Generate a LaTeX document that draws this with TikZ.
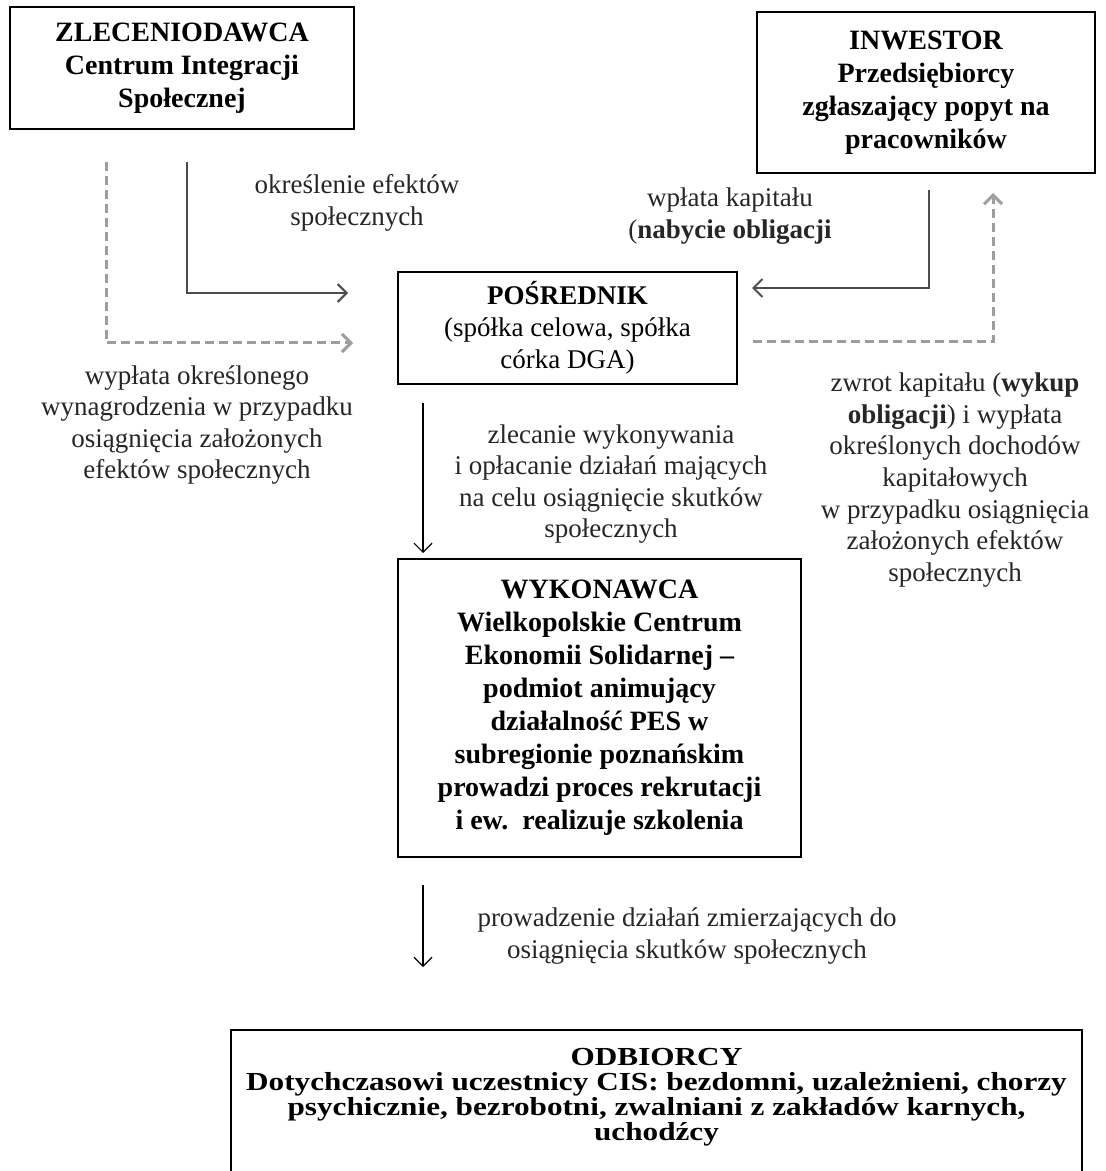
\documentclass[tikz,border=0pt]{standalone}
\usepackage{fontspec}
\setmainfont{Liberation Serif}
\newfontfamily\widefont[FakeStretch=1.2]{Liberation Serif}
\usetikzlibrary{arrows.meta}

\begin{document}
\begin{tikzpicture}[x=0.5pt, y=-0.5pt,
  >={Straight Barb[length=4.5pt,width=9pt]},
  box/.style={draw, line width=0.9pt, align=center, inner sep=0pt,
    font=\fontsize{14}{16.5}\selectfont\bfseries},
  lbl/.style={align=center, text=black!85, inner sep=0pt,
    font=\fontsize{13.5}{15.8}\selectfont},
  flow/.style={->, line width=1pt, draw=black!70},
  back/.style={->, line width=1.5pt, draw=black!38, dash pattern=on 4.5pt off 2.5pt},
  down/.style={->, line width=0.6pt}]
\useasboundingbox (0,0) rectangle (1106,1171);
\clip (0,0) rectangle (1106,1171);

% boxes
\node[box, minimum width=172pt, minimum height=61pt] (zlec) at (182,68)
  {ZLECENIODAWCA\\Centrum Integracji\\Społecznej};
\node[box, minimum width=169pt, minimum height=80.5pt] (inw) at (926,92.5)
  {INWESTOR\\Przedsiębiorcy\\zgłaszający popyt na\\pracowników};
\node[box, minimum width=169.5pt, minimum height=56pt,
  font=\fontsize{13.5}{16}\selectfont] (posr) at (567.5,328)
  {\textbf{POŚREDNIK}\\(spółka celowa, spółka\\córka DGA)};
\node[box, minimum width=201.5pt, minimum height=149pt] (wyk) at (599.5,708)
  {WYKONAWCA\\Wielkopolskie Centrum\\Ekonomii Solidarnej --\\podmiot animujący\\działalność PES w\\subregionie poznańskim\\prowadzi proces rekrutacji\\i ew.\ \ realizuje szkolenia};
% bottom box runs past the lower edge
\node[box, anchor=north, minimum width=425.5pt, inner ysep=9pt,
  font=\widefont\fontsize{13}{12.5}\selectfont\bfseries] (odb) at (656.5,1029)
  {ODBIORCY\\Dotychczasowi uczestnicy CIS: bezdomni, uzależnieni, chorzy\\psychicznie, bezrobotni, zwalniani z zakładów karnych,\\uchodźcy\rule[-24pt]{0pt}{24pt}};

% labels
\node[lbl] (okr) at (357,203) {określenie efektów\\społecznych};
\node[lbl] (wpl) at (730,216) {wpłata kapitału\\(\textbf{nabycie obligacji}};
\node[lbl] (wyp) at (197,425)
  {wypłata określonego\\wynagrodzenia w przypadku\\osiągnięcia założonych\\efektów społecznych};
\node[lbl] (zlc) at (611,484)
  {zlecanie wykonywania\\i opłacanie działań mających\\na celu osiągnięcie skutków\\społecznych};
\node[lbl] (zwr) at (955,480)
  {zwrot kapitału (\textbf{wykup}\\\textbf{obligacji}) i wypłata\\określonych dochodów\\kapitałowych\\w przypadku osiągnięcia\\założonych efektów\\społecznych};
\node[lbl] (prw) at (687,936)
  {prowadzenie działań zmierzających do\\osiągnięcia skutków społecznych};

% connector ends
\coordinate (z1) at (187,162);
\coordinate (z1e) at (348,293);
\coordinate (z2) at (106,162);
\coordinate (z2e) at (353,343);
\coordinate (i1) at (929,190);
\coordinate (i1e) at (752,288);
\coordinate (i2) at (753,342);
\coordinate (i2e) at (993,193);
\coordinate (p1) at (423,403);
\coordinate (p1e) at (423,553);
\coordinate (w1) at (423,885);
\coordinate (w1e) at (423,967);

% connectors
\draw[flow] (z1) |- (z1e);
\draw[back] (z2) |- (z2e);
\draw[flow] (i1) |- (i1e);
\draw[back] (i2) -| (i2e);
\draw[down] (p1) -- (p1e);
\draw[down] (w1) -- (w1e);
\end{tikzpicture}
\end{document}
